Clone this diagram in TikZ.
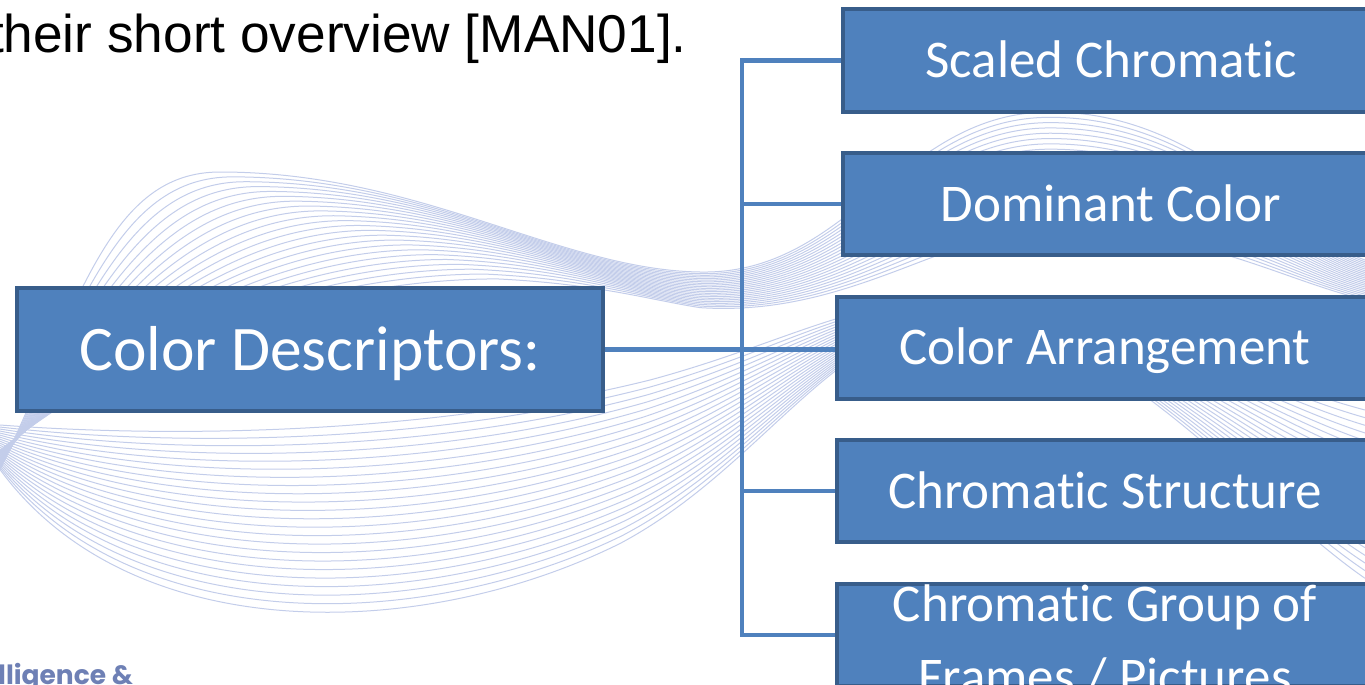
\documentclass[tikz,border=0pt]{standalone}
\usepackage{fontspec}
\setmainfont{Liberation Sans}
\newfontfamily\calib[Ligatures=CommonOff]{Carlito}
\newfontfamily\popp{Poppins}
\usetikzlibrary{calc}
\definecolor{boxfill}{HTML}{4F81BD}
\definecolor{boxline}{HTML}{385D8A}
\definecolor{wave}{HTML}{C3CDEA}
\definecolor{logo}{HTML}{6E80B5}
\pgfdeclarelayer{waves}
\pgfdeclarelayer{lines}
\pgfsetlayers{waves,lines,main}
\begin{document}
\begin{tikzpicture}[x=1pt,y=-1pt,
  dbox/.style={rectangle, fill=boxfill, draw=boxline, line width=4pt, inner sep=0pt, text=white},
  bigtxt/.style={font=\calib\fontsize{63.5}{76}\selectfont, text height=41pt, text depth=0pt},
  midtxt/.style={font=\calib\fontsize{53}{64}\selectfont, text height=34pt, text depth=0pt},
  rbox/.style={dbox, midtxt, minimum width=536pt, minimum height=102pt},
  conn/.style={draw=boxfill, line width=4.5pt},
  wavel/.style={draw=wave, line width=1pt}]
\useasboundingbox (0,0) rectangle (1365,685);
\clip (0,0) rectangle (1365,685);

% wave boundary coordinates
\coordinate (a0) at (0,425);   \coordinate (b0) at (0,470);
\coordinate (a1) at (200,440); \coordinate (b1) at (130,650);
\coordinate (a2) at (450,430); \coordinate (b2) at (420,645);
\coordinate (a3) at (650,380); \coordinate (b3) at (620,545);
\coordinate (a4) at (780,345); \coordinate (b4) at (760,470);
\coordinate (a5) at (850,300); \coordinate (b5) at (830,330);
\coordinate (a6) at (950,300); \coordinate (b6) at (950,320);
\coordinate (a7) at (1100,300); \coordinate (b7) at (1100,310);
\coordinate (a8) at (1250,380); \coordinate (b8) at (1250,500);
\coordinate (a9) at (1365,410); \coordinate (b9) at (1365,580);

\coordinate (c0) at (0,470);   \coordinate (d0) at (0,450);
\coordinate (c1) at (80,300);  \coordinate (d1) at (150,330);
\coordinate (c2) at (110,172); \coordinate (d2) at (350,280);
\coordinate (c3) at (220,172); \coordinate (d3) at (500,280);
\coordinate (c4) at (420,172); \coordinate (d4) at (600,285);
\coordinate (c5) at (560,270); \coordinate (d5) at (650,300);
\coordinate (c6) at (700,272); \coordinate (d6) at (700,308);
\coordinate (c7) at (850,275); \coordinate (d7) at (850,318);
\coordinate (c8) at (900,112); \coordinate (d8) at (950,230);
\coordinate (c9) at (1050,112); \coordinate (d9) at (1050,230);
\coordinate (c10) at (1200,112); \coordinate (d10) at (1200,230);
\coordinate (c11) at (1280,230); \coordinate (d11) at (1280,280);
\coordinate (c12) at (1365,260); \coordinate (d12) at (1365,300);

\begin{pgfonlayer}{waves}
\foreach \t in {0,0.045,...,1.0} {
  \draw[wavel] ($(a0)!\t!(b0)$) .. controls ($(a1)!\t!(b1)$) and ($(a2)!\t!(b2)$) .. ($(a3)!\t!(b3)$)
    .. controls ($(a4)!\t!(b4)$) and ($(a5)!\t!(b5)$) .. ($(a6)!\t!(b6)$)
    .. controls ($(a7)!\t!(b7)$) and ($(a8)!\t!(b8)$) .. ($(a9)!\t!(b9)$);
  \draw[wavel] ($(c0)!\t!(d0)$) .. controls ($(c1)!\t!(d1)$) and ($(c2)!\t!(d2)$) .. ($(c3)!\t!(d3)$)
    .. controls ($(c4)!\t!(d4)$) and ($(c5)!\t!(d5)$) .. ($(c6)!\t!(d6)$)
    .. controls ($(c7)!\t!(d7)$) and ($(c8)!\t!(d8)$) .. ($(c9)!\t!(d9)$)
    .. controls ($(c10)!\t!(d10)$) and ($(c11)!\t!(d11)$) .. ($(c12)!\t!(d12)$);
}
\end{pgfonlayer}

% texts
\node[anchor=base east, inner sep=0pt, font=\fontsize{53.2}{60}\selectfont] (intro) at (687,52.5) {their short overview [MAN01].};
\node[anchor=base west, inner sep=0pt, text=logo, font=\popp\bfseries\fontsize{26.5}{30}\selectfont] (logo) at (-2,684) {lligence \&};

% boxes
\node[dbox, bigtxt, minimum width=586pt, minimum height=123pt] (cd) at (310,349.5) {Color Descriptors:};
\node[rbox] (sc) at (1111,60.5) {Scaled Chromatic};
\node[rbox] (dc) at (1111,204) {Dominant Color};
\node[rbox] (ca) at (1105,347.5) {Color Arrangement};
\node[rbox] (cs) at (1105,491) {Chromatic Structure};
\node[rbox] (cg) at (1105,635) {};
\node[anchor=base, inner sep=0pt, text=white, font=\calib\fontsize{53}{64}\selectfont] (cg1) at (1105,621) {Chromatic Group of};
\node[anchor=base, inner sep=0pt, text=white, font=\calib\fontsize{53}{64}\selectfont] (cg2) at (1105,694) {Frames / Pictures};

% connectors
\coordinate (tr) at (742,349);
\begin{pgfonlayer}{lines}
\draw[conn] (cd.east) -- (cd.east -| ca.west);
\draw[conn] (sc.west) -- (sc.west -| tr) -- (cg.west -| tr) -- (cg.west);
\draw[conn] (dc.west) -- (dc.west -| tr);
\draw[conn] (cs.west) -- (cs.west -| tr);
\end{pgfonlayer}
\end{tikzpicture}
\end{document}
